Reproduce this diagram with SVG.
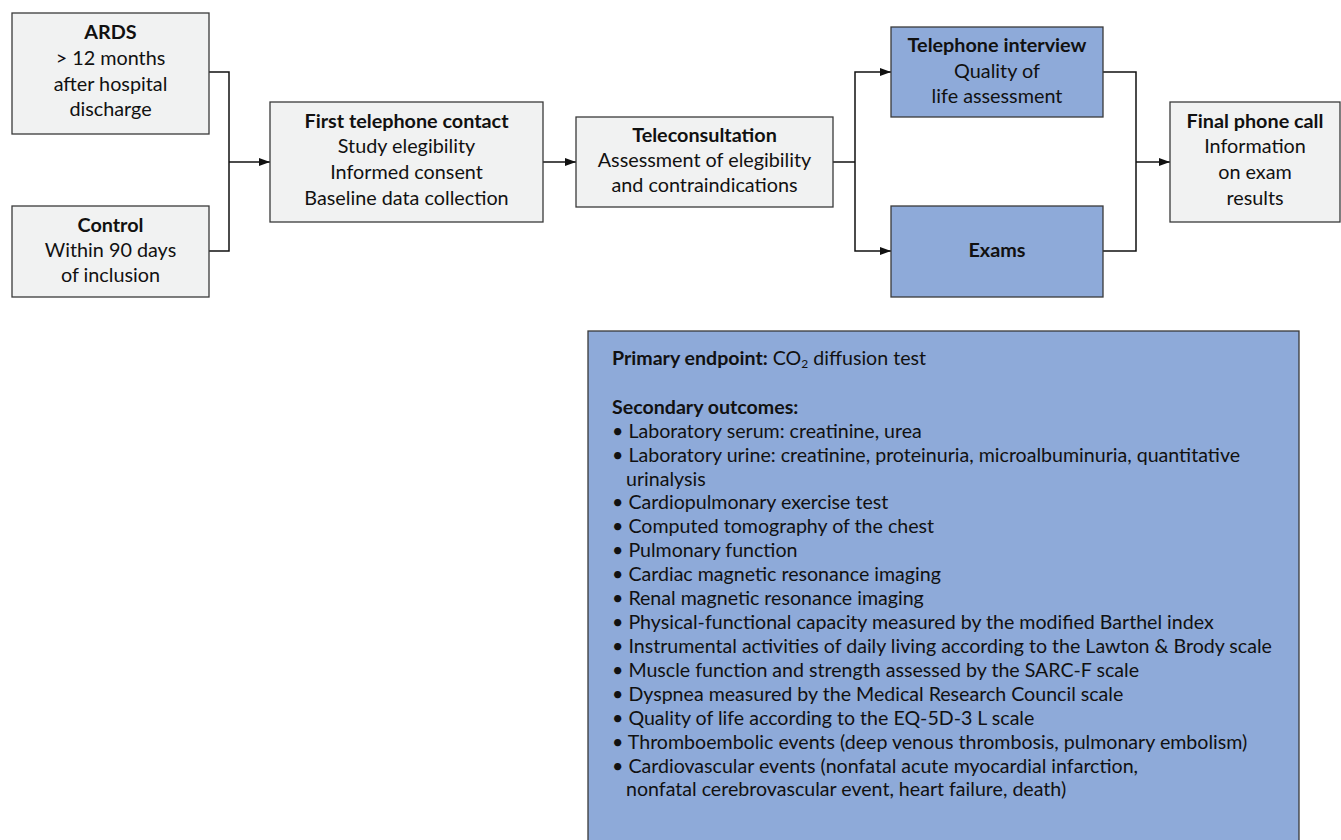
<svg xmlns="http://www.w3.org/2000/svg" width="1341" height="840" viewBox="0 0 1341 840">
<style>
.box{fill:#f1f2f2;stroke:#3a3a3a;stroke-width:1.3}
.blue{fill:#8eaad9;stroke:#3a3a3a;stroke-width:1.3}
.t{font-family:Lato,"Liberation Sans",sans-serif;font-size:19.8px;fill:#111;text-anchor:middle}
.b{font-weight:bold}
.l{font-family:Lato,"Liberation Sans",sans-serif;font-size:19.6px;fill:#111}
.c{fill:none;stroke:#111;stroke-width:1.5}
</style>
<defs>
<marker id="ah" markerUnits="userSpaceOnUse" markerWidth="11" markerHeight="8" refX="11" refY="4" orient="auto">
<path d="M0,0 L11,4 L0,8 z" fill="#111"/>
</marker>
</defs>
<rect width="1341" height="840" fill="#fff"/>
<g id="connectors">
<path class="c" d="M209,72 H229 V251 H209"/>
<path class="c" d="M229,162 H270" marker-end="url(#ah)"/>
<path class="c" d="M543,162 H576" marker-end="url(#ah)"/>
<path class="c" d="M833,162 H855"/>
<path class="c" d="M855,162 V72 H891" marker-end="url(#ah)"/>
<path class="c" d="M855,162 V251 H891" marker-end="url(#ah)"/>
<path class="c" d="M1103,72 H1136 V251 H1103"/>
<path class="c" d="M1136,162 H1170" marker-end="url(#ah)"/>
</g>
<g id="ards">
<rect class="box" x="12" y="13" width="197" height="121"/>
<text class="t b" x="110.5" y="39">ARDS</text>
<text class="t" x="110.5" y="65">&gt; 12 months</text>
<text class="t" x="110.5" y="91">after hospital</text>
<text class="t" x="110.5" y="116">discharge</text>
</g>
<g id="control">
<rect class="box" x="12" y="206" width="197" height="91"/>
<text class="t b" x="110.5" y="232">Control</text>
<text class="t" x="110.5" y="257">Within 90 days</text>
<text class="t" x="110.5" y="282">of inclusion</text>
</g>
<g id="first-contact">
<rect class="box" x="270" y="102" width="273" height="120"/>
<text class="t b" x="406.5" y="128">First telephone contact</text>
<text class="t" x="406.5" y="153">Study elegibility</text>
<text class="t" x="406.5" y="179">Informed consent</text>
<text class="t" x="406.5" y="205">Baseline data collection</text>
</g>
<g id="teleconsultation">
<rect class="box" x="576" y="117" width="257" height="90"/>
<text class="t b" x="704.5" y="142">Teleconsultation</text>
<text class="t" x="704.5" y="167">Assessment of elegibility</text>
<text class="t" x="704.5" y="192">and contraindications</text>
</g>
<g id="telephone-interview">
<rect class="blue" x="891" y="27" width="212" height="90"/>
<text class="t b" x="997" y="52">Telephone interview</text>
<text class="t" x="997" y="78">Quality of</text>
<text class="t" x="997" y="103">life assessment</text>
</g>
<g id="exams">
<rect class="blue" x="891" y="206" width="212" height="91"/>
<text class="t b" x="997" y="257">Exams</text>
</g>
<g id="final-call">
<rect class="box" x="1170" y="102" width="170" height="120"/>
<text class="t b" x="1255" y="128">Final phone call</text>
<text class="t" x="1255" y="153">Information</text>
<text class="t" x="1255" y="179">on exam</text>
<text class="t" x="1255" y="205">results</text>
</g>
<g id="outcomes">
<rect class="blue" x="588" y="331" width="711" height="530"/>
<text class="l" x="612" y="365"><tspan class="b">Primary endpoint:</tspan> CO<tspan font-size="12" dy="3">2</tspan><tspan dy="-3"> diffusion test</tspan></text>
<text class="l b" x="612" y="414">Secondary outcomes:</text>
<text class="l" x="612" y="438">• Laboratory serum: creatinine, urea</text>
<text class="l" x="612" y="462">• Laboratory urine: creatinine, proteinuria, microalbuminuria, quantitative</text>
<text class="l" x="626" y="486">urinalysis</text>
<text class="l" x="612" y="509">• Cardiopulmonary exercise test</text>
<text class="l" x="612" y="533">• Computed tomography of the chest</text>
<text class="l" x="612" y="557">• Pulmonary function</text>
<text class="l" x="612" y="581">• Cardiac magnetic resonance imaging</text>
<text class="l" x="612" y="605">• Renal magnetic resonance imaging</text>
<text class="l" x="612" y="629">• Physical-functional capacity measured by the modified Barthel index</text>
<text class="l" x="612" y="653">• Instrumental activities of daily living according to the Lawton &amp; Brody scale</text>
<text class="l" x="612" y="677">• Muscle function and strength assessed by the SARC-F scale</text>
<text class="l" x="612" y="701">• Dyspnea measured by the Medical Research Council scale</text>
<text class="l" x="612" y="725">• Quality of life according to the EQ-5D-3 L scale</text>
<text class="l" x="612" y="749">• Thromboembolic events (deep venous thrombosis, pulmonary embolism)</text>
<text class="l" x="612" y="773">• Cardiovascular events (nonfatal acute myocardial infarction,</text>
<text class="l" x="626" y="796">nonfatal cerebrovascular event, heart failure, death)</text>
</g>
</svg>
